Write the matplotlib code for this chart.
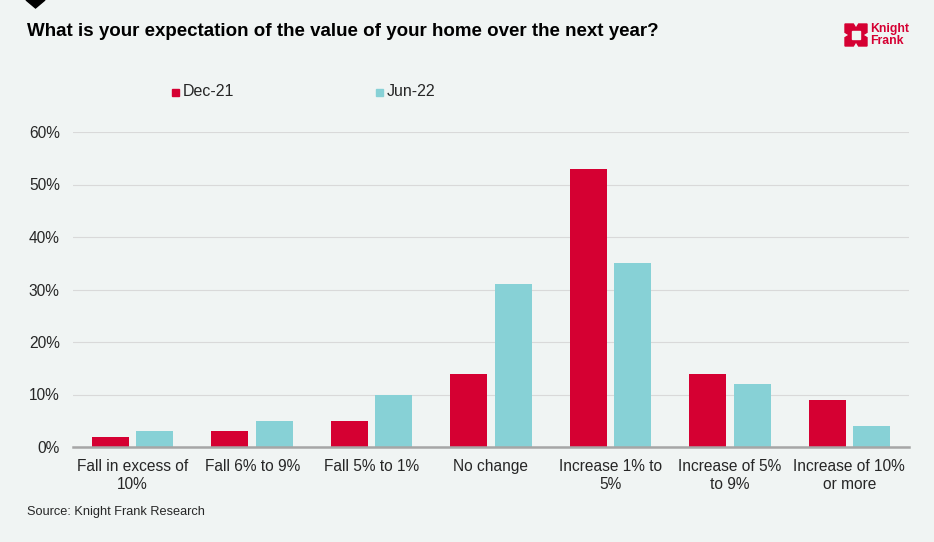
import matplotlib
matplotlib.use("Agg")
import matplotlib.pyplot as plt
from matplotlib.patches import Polygon, Rectangle
import numpy as np

plt.rcParams['font.family'] = ['Liberation Sans', 'DejaVu Sans']

categories = ["Fall in excess of\n10%", "Fall 6% to 9%", "Fall 5% to 1%", "No change",
              "Increase 1% to\n5%", "Increase of 5%\nto 9%", "Increase of 10%\nor more"]
dec21 = [2, 3, 5, 14, 53, 14, 9]
jun22 = [3, 5, 10, 31, 35, 12, 4]
series_names = ["Dec-21", "Jun-22"]
yticks = [0, 10, 20, 30, 40, 50, 60]

RED = "#d50032"
CYAN = "#87d1d6"
BG = "#f0f4f3"
TXT = "#262626"

W, H = 934, 542
fig = plt.figure(figsize=(W / 100, H / 100), dpi=100, facecolor=BG)
ax = fig.add_axes([73 / W, 1 - 447 / H, (909 - 73) / W, (447 - 132) / H])
ax.set_facecolor(BG)

x = np.arange(len(categories))
bw = 0.31
ax.bar(x - 0.186, dec21, bw, color=RED, zorder=3)
ax.bar(x + 0.186, jun22, bw, color=CYAN, zorder=3)

ax.set_xlim(-0.5, len(categories) - 0.5)
ax.set_ylim(0, 60)
ax.set_yticks(yticks)
ax.set_yticklabels([f"{v}%" for v in yticks])
ax.set_xticks(x)
ax.set_xticklabels(categories, linespacing=1.3)
ax.tick_params(axis='both', length=0, labelsize=11.2, colors=TXT)
ax.tick_params(axis='y', pad=9.5)
ax.tick_params(axis='x', pad=8.5)
ax.grid(axis='y', color="#d9d9d9", linewidth=0.8, zorder=0)
for s in ["top", "right", "left"]:
    ax.spines[s].set_visible(False)
ax.spines["bottom"].set_color("#a6a6a6")
ax.spines["bottom"].set_linewidth(1.8)
ax.spines["bottom"].set_zorder(4)

# title and source
fig.text(27 / W, 1 - 31 / H, "What is your expectation of the value of your home over the next year?",
         fontsize=13.5, fontweight='bold', color="#000000", va='center', ha='left')
fig.text(27 / W, 1 - 512 / H, "Source: Knight Frank Research", fontsize=9.2, color=TXT,
         va='center', ha='left')

# small triangle marker at top
fig.patches.append(Polygon([[26 / W, 1.0], [45 / W, 1.0], [35.5 / W, 1 - 8 / H]],
                           closed=True, transform=fig.transFigure, color="#000000"))

# legend
for name, col, lx in zip(series_names, [RED, CYAN], [172, 376]):
    fig.patches.append(Rectangle((lx / W, 1 - 96 / H), 7 / W, 7 / H,
                                 transform=fig.transFigure, color=col))
    fig.text((lx + 11) / W, 1 - 92 / H, name, fontsize=11.5, color=TXT, va='center', ha='left')

# logo
lx0, ly0 = 845, 24
s = 22
logo = [[lx0, ly0], [lx0 + s * 0.38, ly0], [lx0 + s / 2, ly0 + s * 0.2],
        [lx0 + s * 0.62, ly0], [lx0 + s, ly0], [lx0 + s, ly0 + s * 0.38],
        [lx0 + s * 0.8, ly0 + s / 2], [lx0 + s, ly0 + s * 0.62], [lx0 + s, ly0 + s],
        [lx0 + s * 0.62, ly0 + s], [lx0 + s / 2, ly0 + s * 0.8], [lx0 + s * 0.38, ly0 + s],
        [lx0, ly0 + s], [lx0, ly0 + s * 0.62], [lx0 + s * 0.2, ly0 + s / 2],
        [lx0, ly0 + s * 0.38]]
pts = [[px / W, 1 - py / H] for px, py in logo]
fig.patches.append(Polygon(pts, closed=True, transform=fig.transFigure, color=RED))
fig.patches.append(Rectangle(((lx0 + s * 0.33) / W, 1 - (ly0 + s * 0.67) / H), s * 0.34 / W, s * 0.34 / H,
                             transform=fig.transFigure, color=BG))
fig.text(870 / W, 1 - 35 / H, "Knight\nFrank", fontsize=8.8, fontweight='bold', color=RED,
         va='center', ha='left', linespacing=0.95)

fig.savefig("out.png", dpi=100, facecolor=BG)
